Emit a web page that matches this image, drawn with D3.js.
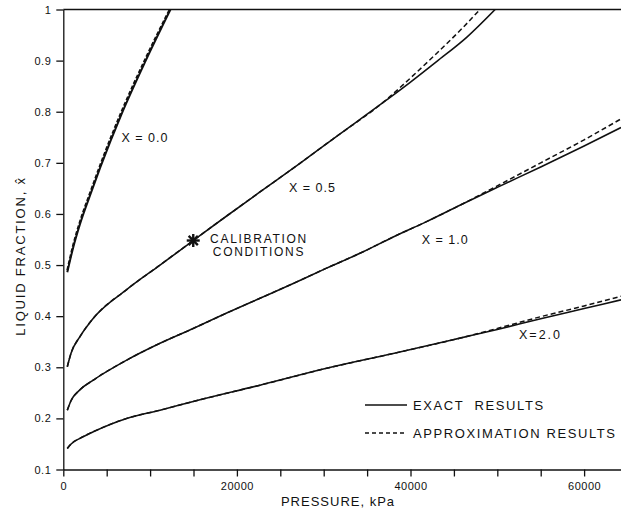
<!DOCTYPE html>
<html>
<head>
<meta charset="utf-8">
<script src="https://cdn.jsdelivr.net/npm/d3@7"></script>
<style>
  body { margin: 0; background: #fff; }
  svg { font-family: 'Liberation Sans', Arial, sans-serif; }
  .axis text { font-size: 11px; letter-spacing: 0.5px; fill: #111; }
  .axis path, .axis line { stroke: #111; stroke-width: 1.3; }
</style>
</head>
<body>
<div id="chart"></div>
<script>
// curves: [pressure kPa, liquid fraction]
var exact00 = [[460, 0.486], [1150, 0.535], [1920, 0.580], [3270, 0.645], [4280, 0.692], [6700, 0.795], [9440, 0.898], [12350, 1.0]]
var approx00 = [[460, 0.490], [1150, 0.540], [1920, 0.585], [3270, 0.650], [4280, 0.697], [6700, 0.800], [9440, 0.903], [12250, 1.0]]

var exact05 = [[460, 0.301], [900, 0.328], [1920, 0.360], [3460, 0.396], [7300, 0.452], [11140, 0.500], [14970, 0.548], [18820, 0.596], [22660, 0.643], [27260, 0.699], [31100, 0.747], [37250, 0.823], [40000, 0.858], [43000, 0.898], [46500, 0.946], [49750, 1.0]]
var approx05 = [[460, 0.301], [900, 0.328], [1920, 0.360], [3460, 0.396], [7300, 0.452], [11140, 0.500], [14970, 0.548], [18820, 0.596], [22660, 0.643], [27260, 0.699], [31100, 0.747], [37250, 0.824], [40000, 0.866], [43000, 0.914], [46000, 0.964], [48000, 1.0]]

var exact10 = [[460, 0.216], [900, 0.235], [1920, 0.256], [3460, 0.275], [7300, 0.314], [11140, 0.347], [14970, 0.376], [18820, 0.406], [22660, 0.435], [26490, 0.464], [30330, 0.494], [34170, 0.523], [38010, 0.555], [41850, 0.585], [45690, 0.617], [50000, 0.652], [55000, 0.692], [60000, 0.733], [64250, 0.769]]
var approx10 = [[460, 0.216], [900, 0.235], [1920, 0.256], [3460, 0.275], [7300, 0.314], [11140, 0.347], [14970, 0.376], [18820, 0.406], [22660, 0.435], [26490, 0.464], [30330, 0.494], [34170, 0.523], [38010, 0.555], [41850, 0.585], [45690, 0.617], [50000, 0.655], [55000, 0.700], [60000, 0.745], [64250, 0.786]]

var exact20 = [[460, 0.141], [900, 0.150], [1920, 0.161], [3460, 0.174], [7300, 0.200], [11140, 0.216], [14970, 0.233], [22660, 0.265], [30330, 0.298], [38010, 0.327], [45690, 0.357], [50000, 0.374], [55000, 0.395], [60000, 0.415], [64250, 0.432]]
var approx20 = [[460, 0.141], [900, 0.150], [1920, 0.161], [3460, 0.174], [7300, 0.200], [11140, 0.216], [14970, 0.233], [22660, 0.265], [30330, 0.298], [38010, 0.327], [45690, 0.357], [50000, 0.376], [55000, 0.399], [60000, 0.420], [64250, 0.439]]

var calibration = [14970, 0.548]

var curveLabels = [
  {text: 'X = 0.0', p: [6700, 0.75]},
  {text: 'X = 0.5', p: [26000, 0.652]},
  {text: 'X = 1.0', p: [41300, 0.55]},
  {text: 'X=2.0', p: [52500, 0.363]},
]

var xTicks = d3.range(0, 65000, 5000)
var yTicks = d3.range(1, 11).map(d => d / 10)

var width = 621, height = 513

var svg = d3.select('#chart').append('svg')
  .attr('width', width)
  .attr('height', height)

svg.append('rect')
  .attr('width', width)
  .attr('height', height)
  .attr('fill', '#fff')

var x = d3.scaleLinear().domain([0, 64250]).range([63.3, 621])
var y = d3.scaleLinear().domain([0.1, 1]).range([469.5, 9.5])

svg.append('defs').append('clipPath')
  .attr('id', 'plot')
  .append('rect')
  .attr('x', x(0))
  .attr('y', y(1))
  .attr('width', x(64250) - x(0))
  .attr('height', y(0.1) - y(1))

svg.append('g')
  .attr('class', 'axis')
  .attr('transform', `translate(0,${y(0.1)})`)
  .call(d3.axisBottom(x)
    .tickValues(xTicks)
    .tickSize(7)
    .tickSizeOuter(0)
    .tickPadding(6)
    .tickFormat(d => d % 20000 ? '' : d))

svg.append('g')
  .attr('class', 'axis')
  .attr('transform', `translate(${x(0)},0)`)
  .call(d3.axisLeft(y)
    .tickValues(yTicks)
    .tickSize(7)
    .tickSizeOuter(0)
    .tickPadding(5)
    .tickFormat(d => d == 1 ? '1' : d3.format('.1f')(d)))

svg.append('line')
  .attr('x1', x(0)).attr('x2', x(64250))
  .attr('y1', y(1)).attr('y2', y(1))
  .attr('stroke', '#111')
  .attr('stroke-width', 1.3)

var line = d3.line()
  .x(d => x(d[0]))
  .y(d => y(d[1]))
  .curve(d3.curveMonotoneX)

var curves = svg.append('g').attr('clip-path', 'url(#plot)')

var series = [
  {data: exact00, dash: null, w: 2},
  {data: approx00, dash: '4 2', w: 2},
  {data: exact05, dash: null, w: 1.6},
  {data: approx05, dash: '5 3', w: 1.5},
  {data: exact10, dash: null, w: 1.6},
  {data: approx10, dash: '5 3', w: 1.5},
  {data: exact20, dash: null, w: 1.6},
  {data: approx20, dash: '5 3', w: 1.5},
]

curves.selectAll('path')
  .data(series)
  .join('path')
  .attr('d', d => line(d.data))
  .attr('fill', 'none')
  .attr('stroke', '#111')
  .attr('stroke-width', d => d.w)
  .attr('stroke-dasharray', d => d.dash)

// calibration star
var star = svg.append('g')
  .attr('transform', `translate(${x(calibration[0])},${y(calibration[1])})`)

star.selectAll('line')
  .data([0, 45, 90, 135])
  .join('line')
  .attr('x1', -6.5).attr('x2', 6.5)
  .attr('transform', d => `rotate(${d})`)
  .attr('stroke', '#111')
  .attr('stroke-width', 2.4)

var calText = svg.append('text')
  .attr('x', 259)
  .attr('y', 243)
  .attr('text-anchor', 'middle')
  .style('font-size', '12px')
  .style('letter-spacing', '1.7px')
  .attr('fill', '#111')

calText.selectAll('tspan')
  .data(['CALIBRATION', 'CONDITIONS'])
  .join('tspan')
  .attr('x', 259)
  .attr('dy', (d, i) => i ? 13 : 0)
  .text(d => d)

svg.selectAll('text.clabel')
  .data(curveLabels)
  .join('text')
  .attr('class', 'clabel')
  .attr('x', d => x(d.p[0]))
  .attr('y', d => y(d.p[1]))
  .attr('dy', '0.35em')
  .style('font-size', '12.5px')
  .style('letter-spacing', (d, i) => i == 3 ? '2px' : '1px')
  .attr('fill', '#111')
  .text(d => d.text)

// legend
var legend = svg.append('g')
  .attr('transform', 'translate(365,405)')

legend.selectAll('line')
  .data([null, '4 3'])
  .join('line')
  .attr('x1', 0).attr('x2', 42)
  .attr('y1', (d, i) => i * 28).attr('y2', (d, i) => i * 28)
  .attr('stroke', '#111')
  .attr('stroke-width', 1.4)
  .attr('stroke-dasharray', d => d)

legend.selectAll('text')
  .data(['EXACT  RESULTS', 'APPROXIMATION RESULTS'])
  .join('text')
  .attr('x', 48)
  .attr('y', (d, i) => i * 28)
  .attr('dy', '0.35em')
  .style('font-size', '13px')
  .style('letter-spacing', '1.6px')
  .style('white-space', 'pre')
  .attr('fill', '#111')
  .text(d => d)

svg.append('text')
  .attr('x', 338)
  .attr('y', 506)
  .attr('text-anchor', 'middle')
  .style('font-size', '13px')
  .style('letter-spacing', '1px')
  .attr('fill', '#111')
  .text('PRESSURE, kPa')

svg.append('text')
  .attr('transform', 'translate(25,256) rotate(-90)')
  .attr('text-anchor', 'middle')
  .style('font-size', '13px')
  .style('letter-spacing', '1.8px')
  .attr('fill', '#111')
  .text('LIQUID FRACTION, x\u0302')
</script>
</body>
</html>
